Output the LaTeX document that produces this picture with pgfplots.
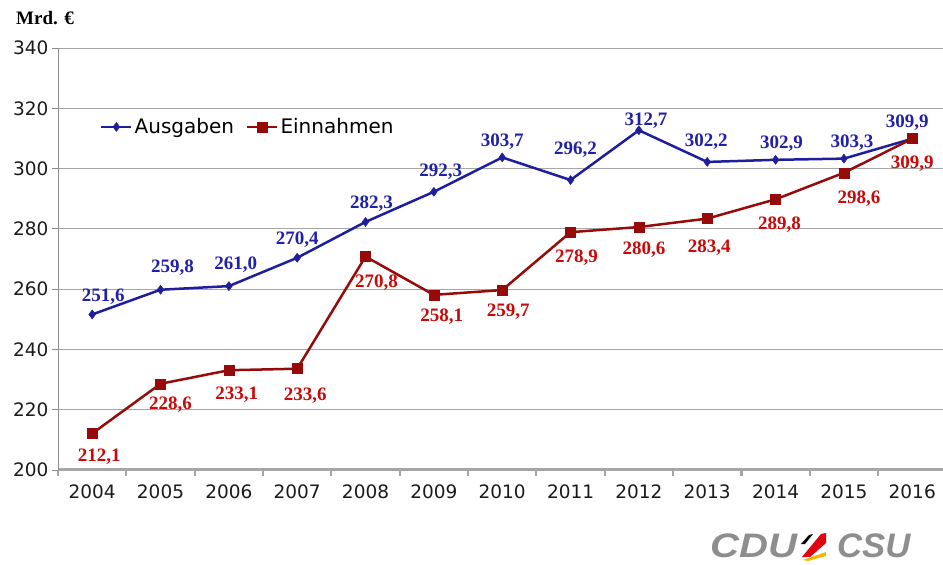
\documentclass[border=0pt]{standalone}
\usepackage{pgfplots}
\usepackage{pgfplotstable}
\pgfplotsset{compat=1.18}
\usepackage{fontspec}
\setmainfont{Liberation Serif}
\newfontfamily\dejavu{DejaVu Sans}
\newfontfamily\libsans{Liberation Sans}
\definecolor{ausblue}{HTML}{1F1F9E}
\definecolor{ausblab}{HTML}{2020A8}
\definecolor{einred}{HTML}{960A0A}
\definecolor{einlab}{HTML}{C80A0A}
\definecolor{gridgray}{HTML}{A6A6A6}
\definecolor{axgray}{HTML}{8C8C8C}
\definecolor{logogray}{HTML}{8E8E8E}
\definecolor{ticktext}{HTML}{1A1A1A}
\definecolor{flagred}{HTML}{E00010}
\definecolor{flaggold}{HTML}{F5B800}
% x = year index, y = value, dx/dy = label offset (pt)
\pgfplotstableread{
x y dx dy
0 251.6 11 17.5
1 259.8 12 22
2 261.0 7 21
3 270.4 0 18
4 282.3 6 18
5 292.3 7 20
6 303.7 0 16
7 296.2 5 30
8 312.7 7 10
9 302.2 -1 20
10 302.9 6 16.5
11 303.3 8 16
12 309.9 -5 16
}\ausgaben
\pgfplotstableread{
x y dx dy
0 212.1 7 -23
1 228.6 10 -21
2 233.1 8 -24
3 233.6 8 -27
4 270.8 11 -26
5 258.1 8 -22
6 259.7 6 -22
7 278.9 6 -25
8 280.6 5 -23
9 283.4 2 -29
10 289.8 4 -25
11 298.6 15 -26
12 309.9 0 -25
}\einnahmen
\begin{document}
\begin{tikzpicture}
\begin{axis}[
  scale only axis, width=885pt, height=422pt,
  xmin=-0.5, xmax=12.45, ymin=200, ymax=340,
  clip=false,
  axis x line*=bottom, axis y line*=left,
  x axis line style={gridgray, line width=3pt},
  y axis line style={axgray, line width=0.8pt},
  ytick={200,220,...,340},
  ymajorgrids=true,
  grid style={gridgray, line width=0.8pt},
  tick align=outside,
  major tick length=6pt,
  ytick style={axgray, line width=0.8pt},
  xtick={-0.5,0.5,...,12.5},
  xticklabels={},
  xtick style={gridgray, line width=2.2pt},
  extra x ticks={0,1,2,3,4,5,6,7,8,9,10,11,12},
  extra x tick labels={2004,2005,2006,2007,2008,2009,2010,2011,2012,2013,2014,2015,2016},
  extra x tick style={major tick length=0pt, grid=none, xticklabel style={yshift=-11pt}},
  ticklabel style={font=\dejavu\fontsize{18.5}{18.5}\selectfont, text=ticktext},
  /pgf/number format/assume math mode=true,
  legend style={at={(rel axis cs:0.044,0.813)}, anchor=west, draw=none, fill=none,
    font=\dejavu\fontsize{20}{20}\selectfont, legend columns=2,
    /tikz/every even column/.append style={column sep=10pt}},
  legend image code/.code={\draw[mark repeat=2,mark phase=2,#1] plot coordinates {(0pt,0pt)(15pt,0pt)(30pt,0pt)};},
]
\addlegendimage{ausblue, line width=2.5pt, mark=diamond*, mark size=4.5pt, mark options={line width=0.5pt}}
\addlegendentry{Ausgaben}
\addlegendimage{einred, line width=2.5pt, mark=square*, mark size=5pt, mark options={line width=0.5pt}}
\addlegendentry{Einnahmen}
\addplot[forget plot, ausblue, line width=2.5pt, mark=diamond*, mark size=4.5pt,
  mark options={line width=0.5pt},
  point meta=y,
  visualization depends on={\thisrow{dx} \as \dx},
  visualization depends on={\thisrow{dy} \as \dy},
  nodes near coords={\pgfmathprintnumber[use comma,fixed,fixed zerofill,precision=1]{\pgfplotspointmeta}},
  every node near coord/.append style={anchor=center, xshift=\dx pt, yshift=\dy pt, text=ausblab,
    font=\bfseries\fontsize{19}{19}\selectfont}]
table[x=x,y=y] {\ausgaben};
\addplot[forget plot, einred, line width=2.5pt, mark=square*, mark size=5pt,
  mark options={line width=0.5pt},
  point meta=y,
  visualization depends on={\thisrow{dx} \as \dx},
  visualization depends on={\thisrow{dy} \as \dy},
  nodes near coords={\pgfmathprintnumber[use comma,fixed,fixed zerofill,precision=1]{\pgfplotspointmeta}},
  every node near coord/.append style={anchor=center, xshift=\dx pt, yshift=\dy pt, text=einlab,
    font=\bfseries\fontsize{19}{19}\selectfont}]
table[x=x,y=y] {\einnahmen};
\coordinate (SW) at (rel axis cs:0,0);
\coordinate (NE) at (rel axis cs:1,1);
\end{axis}
\pgfresetboundingbox
\path (SW) ++(-58pt,-95pt) rectangle ([xshift=0pt,yshift=48pt]NE);
\node[font=\bfseries\fontsize{19}{19}\selectfont, anchor=center] at ([xshift=-13pt,yshift=452pt]SW) {Mrd. €};
% logo
\node[font=\libsans\bfseries\itshape\fontsize{34}{34}\selectfont, text=logogray, anchor=base west, inner sep=0pt, xscale=1.18] at ([xshift=652pt,yshift=-88pt]SW) {CDU};
\node[font=\libsans\bfseries\itshape\fontsize{34}{34}\selectfont, text=logogray, anchor=base west, inner sep=0pt, xscale=1.02] at ([xshift=779pt,yshift=-88pt]SW) {CSU};
\fill[black] ([xshift=743pt,yshift=-74pt]SW) -- ([xshift=751pt,yshift=-65pt]SW) -- ([xshift=755pt,yshift=-64pt]SW) -- ([xshift=747pt,yshift=-74pt]SW) -- cycle;
\fill[flagred] ([xshift=744pt,yshift=-87pt]SW) -- ([xshift=763pt,yshift=-64pt]SW) -- ([xshift=768pt,yshift=-63pt]SW) -- ([xshift=768pt,yshift=-73pt]SW) -- ([xshift=752pt,yshift=-87pt]SW) -- cycle;
\fill[flaggold] ([xshift=745pt,yshift=-90pt]SW) -- ([xshift=768pt,yshift=-82pt]SW) -- ([xshift=768pt,yshift=-86pt]SW) -- ([xshift=750pt,yshift=-91pt]SW) -- cycle;
\end{tikzpicture}
\end{document}
